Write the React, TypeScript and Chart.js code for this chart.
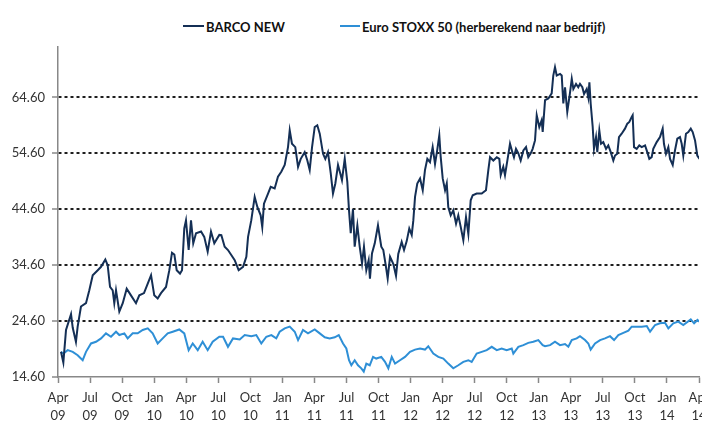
import React, { useEffect, useRef } from 'react';
import { Chart, registerables } from 'chart.js';

Chart.register(...registerables);

// Months elapsed since April 2009 (0 = Apr 09, 60 = Apr 14)
const barcoMonths = [0.28,0.50,0.75,1.22,1.38,1.68,1.84,2.15,2.62,2.93,3.25,3.72,4.03,4.43,4.65,4.87,5.12,5.27,5.43,5.74,6.06,6.43,6.83,7.30,7.61,8.05,8.40,8.71,9.01,9.33,9.64,10.11,10.42,10.67,10.89,11.11,11.42,11.61,11.82,11.98,12.23,12.45,12.66,12.92,13.39,13.69,14.01,14.32,14.63,15.10,15.29,15.60,15.91,16.22,16.54,16.91,17.32,17.63,17.79,18.09,18.41,18.66,18.97,19.12,19.28,19.66,19.91,20.28,20.59,20.90,21.22,21.53,21.69,21.90,22.21,22.47,22.72,23.09,23.34,23.56,23.78,24.03,24.27,24.50,24.81,25.02,25.27,25.53,25.74,25.96,26.21,26.46,26.58,26.84,27.08,27.24,27.40,27.61,27.77,28.02,28.24,28.46,28.64,28.86,29.08,29.20,29.39,29.65,29.95,30.26,30.45,30.70,30.86,31.08,31.39,31.64,31.85,32.17,32.39,32.64,32.88,33.11,33.26,33.42,33.63,33.89,34.14,34.35,34.57,34.82,35.07,35.29,35.50,35.69,35.82,36.01,36.23,36.39,36.53,36.76,37.00,37.26,37.47,37.70,37.94,38.19,38.41,38.63,38.82,39.19,39.66,40.06,40.28,40.44,40.75,41.07,41.31,41.44,41.68,41.84,42.06,42.31,42.53,42.68,42.87,43.09,43.31,43.56,43.81,44.02,44.25,44.43,44.65,44.81,45.05,45.27,45.37,45.59,45.90,46.21,46.36,46.52,46.68,46.99,47.15,47.30,47.46,47.67,47.93,48.09,48.24,48.49,48.70,48.86,49.08,49.24,49.49,49.64,49.74,49.86,50.05,50.17,50.36,50.48,50.67,50.83,51.04,51.30,51.51,51.74,51.98,52.14,52.35,52.51,52.76,53.07,53.29,53.48,53.70,53.79,53.92,54.17,54.41,54.64,54.95,55.16,55.35,55.57,55.72,56.04,56.35,56.60,56.72,56.91,57.13,57.29,57.54,57.75,57.97,58.22,58.38,58.53,58.78,59.00,59.23,59.41,59.63,59.84,60.05];
const barcoValues = [19.1,17.2,23.0,25.85,23.4,20.9,23.6,27.2,27.8,30.1,32.8,33.7,34.3,35.6,34.6,30.7,30.1,27.8,30.1,26.3,27.8,30.4,29.2,27.8,29.2,29.6,31.3,32.8,29.2,28.65,29.6,30.7,33.7,36.8,36.5,33.7,33.1,33.7,41.15,42.6,37.3,42.6,38.5,40.3,40.6,39.65,37.0,40.6,38.5,40.0,39.95,37.9,37.3,36.4,35.5,33.7,34.3,36.1,39.65,42.6,46.8,45.0,43.5,41.4,45.6,47.4,48.6,48.3,50.4,51.3,52.5,55.7,58.7,56.3,55.7,52.15,53.6,54.8,53.3,51.6,55.7,59.3,59.6,58.1,54.5,53.6,54.8,51.0,47.4,49.2,52.5,50.7,49.8,53.6,49.5,44.4,40.3,44.6,37.9,41.7,37.9,34.9,37.9,33.7,35.5,32.2,36.7,38.5,41.7,37.9,37.3,34.3,32.2,36.1,34.8,32.7,36.6,38.75,37.3,38.9,41.15,40.0,42.6,46.8,49.2,50.1,48.0,51.6,53.6,53.0,55.7,52.7,55.2,57.8,54.0,50.1,48.0,49.2,45.0,43.5,44.4,42.0,43.5,41.4,39.05,43.2,40.2,46.2,47.1,47.4,47.4,48.0,51.6,53.9,53.3,53.9,53.6,50.7,52.2,50.7,53.3,56.3,54.8,53.9,55.4,54.6,53.3,55.1,55.7,53.9,54.6,55.4,56.9,61.4,59.3,60.5,58.4,64.1,64.4,65.3,68.5,70.0,68.5,68.8,68.5,63.5,66.4,62.0,65.5,67.9,66.1,67.0,66.4,67.0,66.4,65.2,66.1,64.6,67.3,63.5,59.3,55.4,57.5,54.8,58.7,56.3,56.6,55.4,56.0,54.8,53.3,54.2,54.5,57.5,58.1,59.0,59.9,60.2,61.1,61.4,55.7,55.4,56.0,55.7,56.0,54.8,53.6,53.9,55.4,56.6,57.5,59.0,56.3,54.5,55.7,53.6,52.5,55.1,57.2,57.5,56.3,54.2,58.1,58.4,59.0,58.4,56.9,54.2,53.6];

const stoxxMonths = [0.28,0.50,0.91,1.38,1.84,2.31,2.62,3.09,3.56,4.03,4.49,4.96,5.43,5.74,6.21,6.52,6.99,7.46,7.93,8.40,8.86,9.33,9.80,10.27,10.74,11.35,11.82,12.23,12.61,13.08,13.54,14.01,14.48,15.10,15.45,15.91,16.38,17.01,17.48,18.09,18.56,19.03,19.50,19.97,20.43,20.75,21.22,21.69,22.16,22.47,22.93,23.40,24.03,24.50,24.97,25.43,25.90,26.28,26.68,26.99,27.24,27.46,27.77,28.08,28.39,28.62,28.86,29.18,29.49,29.79,30.26,30.61,30.92,31.24,31.55,32.01,32.48,32.95,33.42,33.89,34.35,34.66,35.13,35.60,36.07,36.53,37.00,37.47,37.94,38.41,38.72,39.19,39.66,40.13,40.60,41.07,41.53,42.00,42.47,42.62,43.09,43.56,44.02,44.49,44.96,45.37,45.59,46.06,46.52,46.99,47.46,47.77,48.09,48.55,48.86,49.33,49.64,49.86,50.27,50.74,51.20,51.67,52.05,52.45,52.92,53.39,53.70,54.17,54.64,55.11,55.42,55.89,56.35,56.82,57.13,57.59,58.06,58.53,59.23,59.54,59.86,60.05];
const stoxxValues = [19.1,18.8,19.4,19.1,18.5,17.6,19.1,20.6,20.9,21.5,22.4,21.8,22.7,22.1,22.4,21.5,22.4,22.4,23.0,23.3,22.4,20.6,21.5,22.4,22.7,23.1,22.4,19.4,20.6,19.4,20.9,19.4,20.9,21.8,21.8,20.0,21.5,21.3,22.1,21.9,22.1,20.6,21.8,22.1,21.5,22.7,23.3,23.6,22.7,21.2,23.0,22.4,23.1,22.4,21.7,21.5,21.7,22.1,20.6,19.7,17.6,16.7,17.6,16.7,16.15,15.55,17.0,16.7,18.2,17.9,18.2,17.3,16.15,18.2,17.0,17.6,18.2,19.1,19.5,19.7,19.5,20.1,18.8,18.2,17.9,17.0,16.15,16.7,17.3,17.6,17.3,18.8,19.1,19.4,20.0,19.4,19.7,19.4,19.7,18.8,20.0,20.3,20.7,20.9,21.2,20.3,20.1,20.3,20.9,20.3,20.5,20.0,21.2,21.5,21.9,21.2,20.6,19.5,20.6,21.2,21.5,21.9,21.2,22.1,22.5,22.9,23.6,23.6,23.6,23.7,22.7,23.9,24.2,24.3,23.3,24.2,24.5,23.9,24.9,24.2,24.8,24.5];

const yTickValues = [14.6, 24.6, 34.6, 44.6, 54.6, 64.6];
const yMin = 14.6;
const yMax = 73.6;

const xTickLabels = [
  ['Apr', '09'], ['Jul', '09'], ['Oct', '09'], ['Jan', '10'],
  ['Apr', '10'], ['Jul', '10'], ['Oct', '10'], ['Jan', '11'],
  ['Apr', '11'], ['Jul', '11'], ['Oct', '11'], ['Jan', '12'],
  ['Apr', '12'], ['Jul', '12'], ['Oct', '12'], ['Jan', '13'],
  ['Apr', '13'], ['Jul', '13'], ['Oct', '13'], ['Jan', '14'],
  ['Apr', '14'],
];

const seriesNames = ['BARCO NEW', 'Euro STOXX 50 (herberekend naar bedrijf)'];
const seriesColors = ['#142f55', '#2e8fd6'];

const FONT = 'Lato, "Open Sans", sans-serif';

export default function App() {
  const canvasRef = useRef<HTMLCanvasElement | null>(null);

  useEffect(() => {
    const canvas = canvasRef.current;
    if (!canvas) return;
    const chart = new Chart(canvas, {
      type: 'line',
      data: {
        datasets: [
          {
            label: seriesNames[0],
            data: barcoMonths.map((m, i) => ({ x: m, y: barcoValues[i] })),
            borderColor: seriesColors[0],
            backgroundColor: seriesColors[0],
            borderWidth: 2,
            pointRadius: 0,
            tension: 0,
          },
          {
            label: seriesNames[1],
            data: stoxxMonths.map((m, i) => ({ x: m, y: stoxxValues[i] })),
            borderColor: seriesColors[1],
            backgroundColor: seriesColors[1],
            borderWidth: 2,
            pointRadius: 0,
            tension: 0,
          },
        ],
      },
      options: {
        animation: false,
        responsive: false,
        maintainAspectRatio: false,
        layout: { padding: { left: 0, right: 31, top: 47, bottom: 0 } },
        plugins: {
          legend: { display: false },
          tooltip: { enabled: false },
        },
        scales: {
          x: {
            type: 'linear',
            min: 0,
            max: 60,
            afterBuildTicks: (scale: any) => {
              scale.ticks = xTickLabels.map((_, i) => ({ value: i * 3 }));
            },
            afterFit: (scale: any) => {
              scale.height = 48;
            },
            ticks: {
              autoSkip: false,
              maxRotation: 0,
              minRotation: 0,
              padding: 6,
              color: '#333333',
              font: { family: FONT, size: 13, lineHeight: 1.4 },
              callback: (v: any) => xTickLabels[Math.round(Number(v) / 3)],
            },
            grid: {
              drawOnChartArea: false,
              drawTicks: true,
              tickLength: 6,
              tickColor: '#888888',
              tickWidth: 1.5,
            },
            border: { display: true, color: '#888888', width: 1.5 },
          },
          y: {
            type: 'linear',
            min: yMin,
            max: yMax,
            afterBuildTicks: (scale: any) => {
              scale.ticks = yTickValues.map((v) => ({ value: v }));
            },
            afterFit: (scale: any) => {
              scale.width = 58;
            },
            ticks: {
              padding: 7,
              color: '#333333',
              font: { family: FONT, size: 13 },
              callback: (v: any) => Number(v).toFixed(2),
            },
            grid: {
              color: (ctx: any) => (ctx.index === 0 ? 'rgba(0,0,0,0)' : '#1e1e1e'),
              lineWidth: 2,
              drawTicks: true,
              tickLength: 6,
              tickColor: '#888888',
              tickWidth: 1.5,
              tickBorderDash: [],
            },
            border: { display: true, color: '#888888', width: 1.5, dash: [3, 3] },
          },
        },
      },
    });
    return () => chart.destroy();
  }, []);

  const legendText: React.CSSProperties = {
    position: 'absolute',
    top: 20,
    font: `bold 13px ${FONT}`,
    lineHeight: '15px',
    color: '#111111',
    whiteSpace: 'nowrap',
  };

  return (
    <div
      style={{
        position: 'absolute',
        left: 0,
        top: 0,
        width: 702,
        height: 425,
        overflow: 'hidden',
        background: '#ffffff',
      }}
    >
      <div style={{ position: 'absolute', left: 183, top: 25, width: 21, height: 2, background: seriesColors[0] }} />
      <div style={{ ...legendText, left: 206 }}>{seriesNames[0]}</div>
      <div style={{ position: 'absolute', left: 340, top: 25, width: 20, height: 2, background: seriesColors[1] }} />
      <div style={{ ...legendText, left: 362 }}>{seriesNames[1]}</div>
      <canvas
        ref={canvasRef}
        width={730}
        height={425}
        style={{ position: 'absolute', left: 0, top: 0, width: 730, height: 425 }}
      />
    </div>
  );
}
